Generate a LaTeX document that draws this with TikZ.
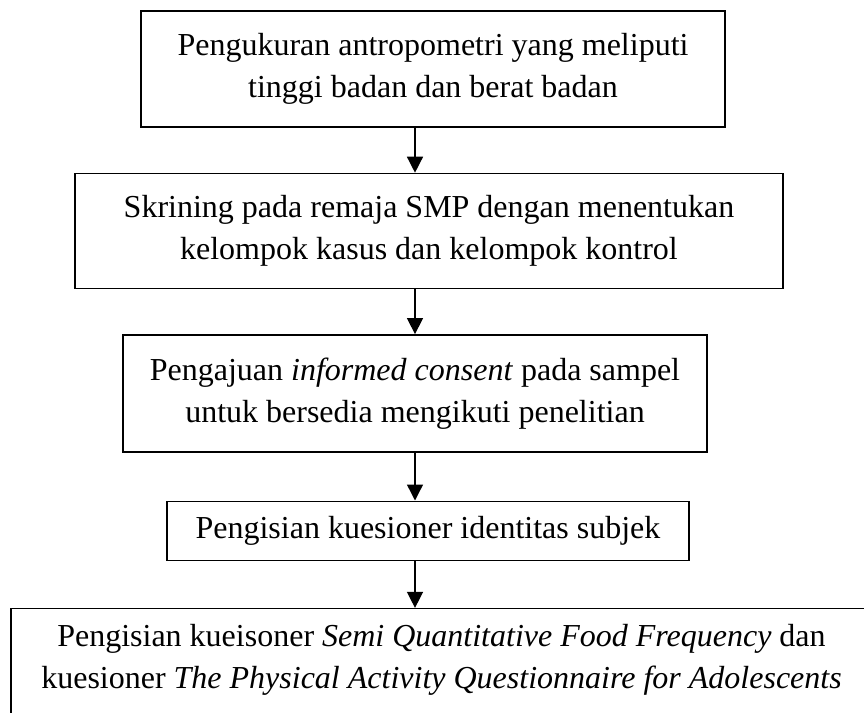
\documentclass[tikz,border=0pt]{standalone}
\usepackage{fontspec}
\setmainfont{Liberation Serif}
\usepackage{tikz}
\usetikzlibrary{calc, positioning, arrows.meta}

\begin{document}
\begin{tikzpicture}[x=0.5pt, y=-0.5pt, node distance=23pt,
        every node/.style={font=\fontsize{16}{21}\selectfont, align=center},
        box/.style={draw, rectangle, line width=0.7pt, inner sep=0pt},
        arr/.style={line width=0.7pt, -{Triangle[length=8pt, width=8pt]}}]
        \clip (0,0) rectangle (864,713);

        \node[box, minimum width=292pt, minimum height=58pt] (b1) at (433,69) {Pengukuran antropometri yang meliputi\\tinggi badan dan berat badan};
        \node[box, minimum width=354pt, minimum height=57.5pt, below=22.5pt of b1, xshift=-2pt] (b2) {Skrining pada remaja SMP dengan menentukan\\kelompok kasus dan kelompok kontrol};
        \node[box, minimum width=292pt, minimum height=58.5pt, below=22.5pt of b2, xshift=-7pt] (b3) {Pengajuan \textit{informed consent} pada sampel\\untuk bersedia mengikuti penelitian};
        \node[box, minimum width=261pt, minimum height=29.5pt, below=24pt of b3, xshift=6.5pt] (b4) {Pengisian kuesioner identitas subjek};
        \node[box, minimum width=430.5pt, minimum height=60pt, text depth=12pt, below=23.5pt of b4, xshift=6.75pt] (b5) {Pengisian kueisoner \textit{Semi Quantitative Food Frequency} dan\\kuesioner \textit{The Physical Activity Questionnaire for Adolescents}};

        \coordinate (ax) at (415,0);
        \draw[arr] (b1.south -| ax) -- (b2.north -| ax);
        \draw[arr] (b2.south -| ax) -- (b3.north -| ax);
        \draw[arr] (b3.south -| ax) -- (b4.north -| ax);
        \draw[arr] (b4.south -| ax) -- (b5.north -| ax);
    \end{tikzpicture}
\end{document}
